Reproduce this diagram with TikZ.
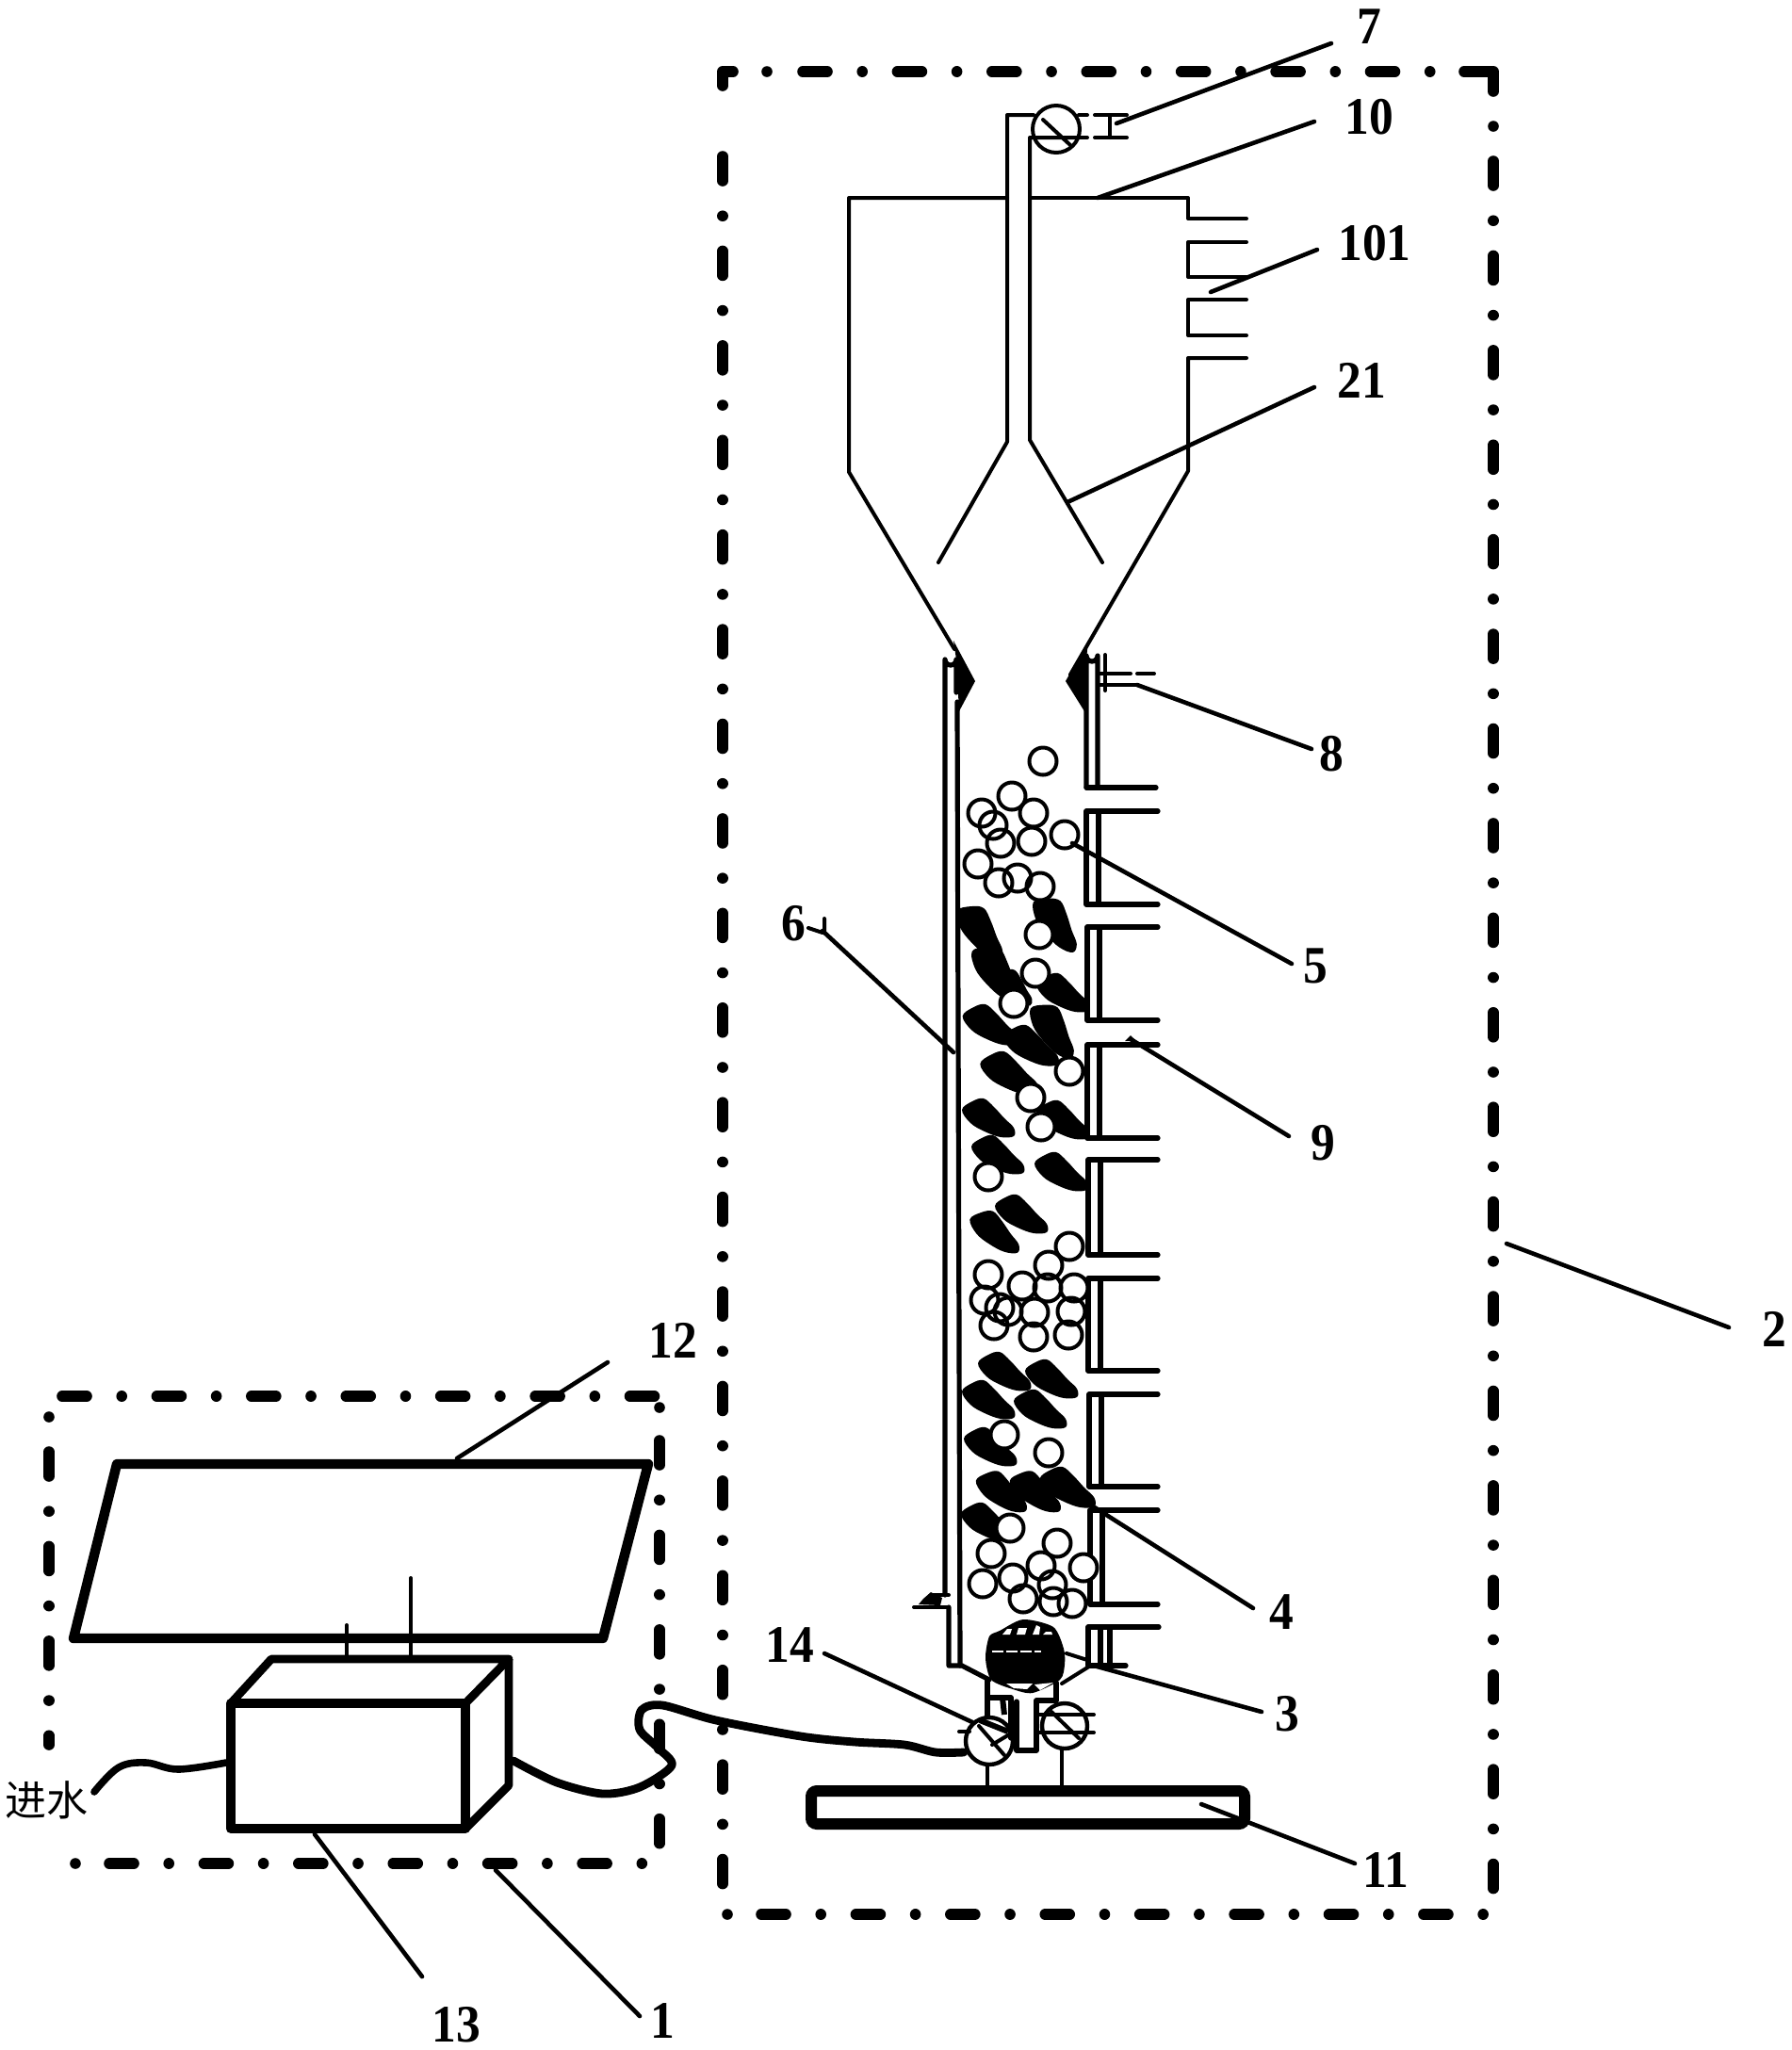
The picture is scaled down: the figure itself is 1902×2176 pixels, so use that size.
\documentclass[tikz,border=0pt]{standalone}
\usepackage{fontspec}
\setmainfont{Liberation Serif}
\newfontfamily\labfont[FakeStretch=0.92]{Liberation Serif}
\newfontfamily\cjk{Noto Sans CJK SC}
\tikzset{
  lab/.style={font=\labfont\bfseries\fontsize{28}{28}\selectfont,inner sep=0pt,text=black},
  pipe/.style={draw=black,line width=2pt,line join=round,line cap=round},
  colpipe/.style={draw=black,line width=2.6pt,line join=round,line cap=round},
  leader/.style={draw=black,line width=2.3pt,line cap=round},
  dashbox/.style={draw=black,line width=5.8pt,line cap=round,line join=round,dash pattern=on 13pt off 18.6pt on 0.01pt off 18.6pt},
  corner/.style={draw=black,line width=5.8pt,line cap=round,line join=round},
  ball/.style={draw=black,line width=2pt,fill=none},
  heavy/.style={draw=black,line width=5.2pt,line join=round},
  hose/.style={draw=black,line width=4.4pt,line cap=round,line join=round},
}
\newcommand{\leaf}[4]{% x, y, rotate, scale
  \fill[black,shift={(#1,#2)},rotate=#3,scale=#4]
    plot[smooth cycle,tension=.6] coordinates {(-27,-8) (-16,-17) (-4,-20) (7,-11) (18,1) (28,11) (28,20) (14,21) (-3,15) (-18,6)};}
\newcommand{\leader}[5]{%
  \coordinate (#1a) at (#2,#3); \coordinate (#1b) at (#4,#5);
  \draw[leader] (#1a) -- (#1b);}
\newcommand{\dotat}[2]{\fill[black] (#1,#2) circle[radius=5.8];}
\begin{document}
\begin{tikzpicture}[x=0.5pt,y=-0.5pt]
\useasboundingbox (0,0) rectangle (1902,2176);
\fill[white] (0,0) rectangle (1902,2176);

% dash-dot enclosure 2
\draw[corner] (767,91) -- (767,76) -- (778,76);
\dotat{814}{76}
\draw[dashbox] (852,76) -- (1525,76);
\draw[corner] (1554,76) -- (1585,76) -- (1585,97);
\dotat{1585}{134}
\draw[dashbox] (1585,171) -- (1585,2006);
\draw[dashbox] (767,166) -- (767,2000);
\dotat{772}{2032}
\draw[dashbox] (808,2032) -- (1579,2032);
% dash-dot enclosure 1
\begin{scope}[every path/.append style={line width=5.3pt}]
\draw[dashbox] (66,1482) -- (700,1482);
\draw[dashbox] (700,1529) -- (700,1960);
\draw[dashbox] (52,1541) -- (52,1852);
\draw[dashbox] (116,1978) -- (684,1978);
\end{scope}
\dotat{700}{1494}
\dotat{52}{1504}
\dotat{80}{1978}

% upper tank and gas pipe
\draw[pipe] (1069,210) -- (901,210) -- (901,501) -- (1013,689);
\draw[pipe] (1093,210) -- (1261,210) -- (1261,232) -- (1323,232);
\draw[pipe] (1323,257) -- (1261,257) -- (1261,294) -- (1323,294);
\draw[pipe] (1323,318) -- (1261,318) -- (1261,356) -- (1323,356);
\draw[pipe] (1323,380) -- (1261,380) -- (1261,500) -- (1136,716);
\draw[pipe] (996,597) -- (1069,469) -- (1069,122) -- (1097,122);
\draw[pipe] (1170,597) -- (1093,467) -- (1093,146) -- (1145,146);
% pump 7
\node[draw=black,line width=2pt,circle,minimum size=25pt,inner sep=0pt] (pump) at (1121,137) {};
\draw[pipe] (1107,127) -- (1136,154);
\draw[pipe] (1145,122) -- (1154,122) (1162,122) -- (1196,122);
\draw[pipe] (1154,146) -- (1145,146) (1162,146) -- (1196,146);
\draw[pipe] (1178,122) -- (1178,146);

% column, left wall
\draw[colpipe] (1003,1693) -- (1003,700) arc[start angle=180,end angle=0,radius=6] -- (1015,735);
\draw[colpipe] (1016,745) -- (1019,1768);
\draw[colpipe] (1007,1706) -- (1007,1768) -- (1021,1768) -- (1050,1783);
\draw[pipe] (1007,1693) -- (988,1693);
\draw[pipe] (1007,1706) -- (970,1706);
\fill[black] (980,1697) -- (988,1690) -- (1000,1696) -- (998,1704) -- (975,1703) -- cycle;
% diamonds
\fill[black] (1012,680) -- (1035,723) -- (1018,755) -- (1015,700) -- cycle;
\fill[black] (1155,680) -- (1131,723) -- (1151,755) -- (1153,700) -- cycle;

% column, right wall chambers
\draw[colpipe] (1153,836) -- (1153,696) arc[start angle=180,end angle=0,radius=6] -- (1165,836);
\draw[colpipe] (1153,836) -- (1227,836);
\foreach \ya/\yb/\xa/\xb in {861/960/1153/1166,984/1083/1154/1167,1109/1208/1154/1167,1231/1332/1155/1168,1357/1455/1155/1168,1480/1578/1156/1169,1603/1703/1157/1170}{
  \draw[colpipe] (1229,\ya) -- (\xa,\ya) -- (\xa,\yb) -- (1229,\yb);
  \draw[colpipe] (\xb,\ya) -- (\xb,\yb);
}
\draw[colpipe] (1230,1727) -- (1155,1727) -- (1155,1768) -- (1195,1768);
\draw[colpipe] (1168,1727) -- (1168,1768) (1178,1727) -- (1178,1768);
% vent 8
\draw[pipe] (1173,695) -- (1173,733);
\draw[pipe] (1165,715) -- (1200,715) (1207,715) -- (1225,715);
\draw[pipe] (1165,727) -- (1207,727);

% leaves
\leaf{1040}{986}{-22}{1.1}
\leaf{1057}{1030}{-22}{1.15}
\leaf{1076}{1046}{-15}{.8}
\leaf{1120}{978}{-25}{1.1}
\leaf{1127}{1053}{0}{1}
\leaf{1050}{1087}{0}{1.05}
\leaf{1093}{1109}{0}{1.05}
\leaf{1117}{1091}{-25}{1.1}
\leaf{1070}{1138}{0}{1.1}
\leaf{1048}{1186}{0}{1}
\leaf{1127}{1188}{0}{1}
\leaf{1058}{1225}{0}{1}
\leaf{1125}{1243}{0}{1}
\leaf{1083}{1288}{0}{1}
\leaf{1055}{1306}{-8}{1}
\leaf{1065}{1455}{0}{1}
\leaf{1115}{1463}{0}{1}
\leaf{1048}{1485}{0}{1}
\leaf{1103}{1495}{0}{1}
\leaf{1050}{1535}{0}{1}
\leaf{1062}{1582}{-5}{1}
\leaf{1098}{1582}{-5}{1}
\leaf{1132}{1578}{0}{1.05}
\leaf{1047}{1615}{0}{1}

% bubbles
\def\bubbles{1107/808,1074/845,1097/863,1042/863,1054/876,1062/895,1095/893,1130/886,1038/917,1060/937,1080/932,1104/941,1103/992,1099/1033,1076/1065,1135/1137,1094/1165,1105/1196,1049/1249,1135/1323,1113/1343,1049/1353,1085/1365,1112/1367,1140/1367,1045/1380,1061/1388,1070/1392,1098/1393,1137/1392,1055/1407,1097/1419,1134/1417,1066/1523,1113/1542,1072/1622,1122/1638,1052/1649,1105/1662,1150/1664,1043/1681,1075/1675,1117/1682,1086/1697,1118/1700,1138/1702}
\foreach \x/\y in \bubbles { \fill[white] (\x,\y) circle[radius=14]; }
\foreach \x/\y in \bubbles { \draw[ball] (\x,\y) circle[radius=14.5]; }

% aerator 3
\fill[black] plot[smooth cycle,tension=.45] coordinates {(1061,1731) (1086,1719) (1118,1727) (1129,1750) (1130,1767) (1125,1783) (1096,1797) (1075,1793) (1052,1783) (1046,1760) (1050,1737)};
\fill[white] (1064,1735) -- (1069,1729) -- (1074,1729) -- (1072,1735) -- cycle;
\fill[white] (1079,1735) -- (1081,1728) -- (1090,1728) -- (1088,1735) -- cycle;
\fill[white] (1096,1735) -- (1100,1725) -- (1104,1727) -- (1103,1735) -- cycle;
\fill[white] (1107,1735) -- (1110,1732) -- (1116,1732) -- (1117,1735) -- cycle;
\draw[white,line width=.6pt,dash pattern=on 6pt off 1.5pt] (1053,1753) -- (1105,1753);
\fill[white] (1068,1787) -- (1096,1787) -- (1090,1793) -- (1076,1792) -- cycle;
\fill[white] (1098,1788) -- (1118,1786) -- (1104,1794) -- cycle;
\draw[pipe] (1159,1767) -- (1127,1787);
\draw[pipe] (1132,1755) -- (1154,1762);

% pipes under the column
\draw[colpipe] (1048,1783) -- (1048,1822);
\draw[colpipe] (1121,1786) -- (1121,1805) -- (1100,1805) -- (1100,1858) -- (1079,1858) -- (1079,1806);
\draw[colpipe] (1050,1802) -- (1073,1802) -- (1073,1845);
\draw[draw=black,line width=3pt] (1064,1802) -- (1066,1820);

% valves
\node[draw=black,line width=2.2pt,circle,minimum size=25pt,inner sep=0pt] (v14) at (1050,1848) {};
\draw[pipe] (1039,1832) -- (1066,1863);
\draw[pipe] (1053,1852) -- (1073,1840);
\draw[pipe] (1018,1838) -- (1029,1838);
\draw[line width=3pt,black] (1040,1826) -- (1070,1838);
\node[draw=black,line width=2.2pt,circle,minimum size=24pt,inner sep=0pt] (v2) at (1130,1832) {};
\draw[pipe] (1116,1817) -- (1145,1845);
\draw[pipe] (1102,1820) -- (1161,1820);
\draw[pipe] (1102,1839) -- (1161,1839);
% tray 11
\node[draw=black,line width=6pt,rounded corners=3pt,minimum width=230pt,minimum height=17.5pt,inner sep=0pt] (tray) at (1091,1918.5) {};
\draw[pipe] (v14.south) ++(-2,0) -- (1048,1896);
\draw[pipe] (v2.south) ++(-3,0) -- (1127,1896);

% panel 12 and box 13
\draw[heavy] (124,1554) -- (688,1554) -- (640,1739) -- (78,1739) -- cycle;
\draw[pipe] (368,1725) -- (368,1758);
\draw[pipe] (436,1675) -- (436,1758);
\draw[heavy] (245,1808) rectangle (494,1941);
\draw[draw=black,line width=4.4pt,line join=round] (245,1808) -- (288,1761) -- (540,1761) -- (494,1808);
\draw[draw=black,line width=4.4pt,line join=round] (540,1761) -- (540,1895) -- (494,1941);
\draw[hose,line width=3.8pt] plot[smooth,tension=.6] coordinates {(100,1902) (126,1876) (155,1871) (189,1878) (240,1871)};
\draw[hose] plot[smooth,tension=.5] coordinates {(545,1869) (591,1892) (640,1904) (679,1897) (713,1874) (698,1855) (679,1836) (681,1815) (703,1810) (760,1826) (850,1843) (907,1849) (960,1852) (993,1860) (1023,1860)};
\node[font=\cjk\fontsize{22}{22}\selectfont,inner sep=0pt] (inlet) at (49,1911) {进水};

% leaders
\leader{l7}{1413}{46}{1185}{131}
\leader{l10}{1395}{129}{1165}{210}
\leader{l101}{1398}{265}{1285}{310}
\leader{l21}{1395}{411}{1133}{533}
\leader{l8}{1207}{727}{1392}{795}
\leader{l5}{1138}{895}{1371}{1023}
\leader{l9}{1200}{1103}{1368}{1206}
\leader{l6}{873}{988}{1012}{1117}
\leader{l2}{1599}{1320}{1835}{1409}
\leader{l4}{1157}{1597}{1330}{1707}
\leader{l3}{1161}{1768}{1339}{1817}
\leader{l14}{875}{1755}{1032}{1828}
\leader{l11}{1275}{1915}{1438}{1978}
\leader{l12}{645}{1446}{485}{1548}
\leader{l13}{334}{1947}{448}{2098}
\leader{l1}{526}{1985}{679}{2140}
% mark beside 6
\draw[pipe] (858,985) -- (873,990) (875,975) -- (875,990);
\fill[black] (1200,1099) -- (1206,1105) -- (1194,1105) -- cycle;

% labels
\node[lab] (n7) at (1453,28) {7};
\node[lab] (n10) at (1453,124) {10};
\node[lab] (n101) at (1459,258) {101};
\node[lab] (n21) at (1445,404) {21};
\node[lab] (n8) at (1413,800) {8};
\node[lab] (n5) at (1396,1025) {5};
\node[lab] (n9) at (1404,1213) {9};
\node[lab] (n6) at (842,980) {6};
\node[lab] (n2) at (1883,1411) {2};
\node[lab] (n4) at (1360,1711) {4};
\node[lab] (n3) at (1366,1819) {3};
\node[lab] (n14) at (838,1746) {14};
\node[lab] (n11) at (1471,1985) {11};
\node[lab] (n12) at (714,1423) {12};
\node[lab] (n13) at (484,2149) {13};
\node[lab] (n1) at (703,2145) {1};
\end{tikzpicture}
\end{document}
